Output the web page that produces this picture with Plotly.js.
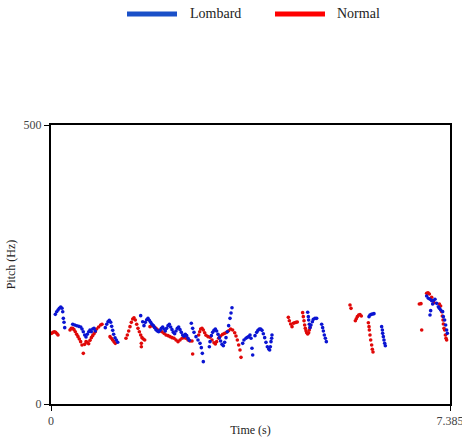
<!DOCTYPE html>
<html>
<head>
<meta charset="utf-8">
<script src="https://cdn.plot.ly/plotly-3.0.1.min.js"></script>
<style>html,body{margin:0;padding:0;background:#fff}#chart{width:462px;height:437px}</style>
</head>
<body>
<div id="chart"></div>
<script>
const seriesNames = ["Lombard", "Normal"];
const xTickVals = [0, 7.385];
const xTickText = ["0", "7.385"];
const yTickVals = [0, 500];
const yTickText = ["0", "500"];

const lombardTime = [
  0.080,0.105,0.130,0.154,0.180,0.204,0.217,0.228,0.241,0.254,
  0.402,0.439,0.476,0.513,0.550,0.574,0.598,0.624,0.648,0.672,0.698,0.722,0.746,0.772,0.796,0.820,
  1.005,1.031,1.055,1.079,1.105,1.123,1.142,1.160,1.185,1.209,1.235,
  1.660,1.697,1.721,1.746,1.771,1.795,1.820,1.845,1.869,1.894,1.919,1.943,1.968,1.993,2.017,2.042,2.067,2.092,2.116,2.141,2.166,2.190,2.215,2.240,2.264,2.289,2.314,2.338,2.363,2.388,2.412,2.437,2.462,2.486,2.511,2.536,2.560,
  2.597,2.622,2.647,2.684,2.721,2.758,2.782,2.801,2.819,
  2.931,2.943,2.968,2.992,3.017,3.042,3.066,3.091,3.116,3.140,3.165,3.190,3.214,3.239,3.264,3.288,3.313,3.332,3.350,
  3.548,3.572,3.609,3.634,3.659,3.683,3.702,3.720,3.733,
  3.776,3.807,3.831,3.856,3.881,3.905,3.930,3.955,3.979,4.004,4.029,4.047,4.060,4.072,4.084,4.090,
  4.751,4.763,4.769,4.781,4.794,4.812,4.837,4.855,4.886,4.917,
  5.010,5.028,5.041,5.059,5.078,5.096,
  5.886,5.904,5.929,5.954,5.978,
  6.120,6.133,6.139,6.151,6.163,6.176,6.188,
  6.953,6.984,7.015,7.046,7.077,7.107,7.064,7.027,7.015,7.138,7.169,7.188,7.212,7.249,7.262,7.286,7.305,7.323,7.336
];
const lombardPitch = [
  160.7,165.4,168.5,171.5,173.8,171.5,165.4,153.5,146.4,136.8,
  142.8,141.6,140.3,139.2,137.9,134.4,129.6,123.6,120.0,124.9,129.6,132.6,129.6,134.4,135.6,130.8,
  136.8,142.8,147.5,150.0,146.4,139.2,132.0,124.9,118.8,114.7,110.6,
  158.3,147.5,140.4,146.3,151.1,153.5,149.9,146.3,142.8,140.4,136.8,133.2,130.8,129.6,132.0,135.6,138.0,134.4,130.8,135.6,140.4,142.8,138.0,133.2,128.4,126.0,130.8,135.6,138.0,133.2,128.4,123.6,121.3,124.8,122.5,117.7,114.1,
  144.6,135.6,128.4,120.7,114.7,108.7,101.0,90.8,75.9,
  102.7,111.7,122.5,128.4,132.0,134.4,130.8,124.8,118.9,112.9,106.9,104.5,110.5,118.9,129.6,140.4,153.5,163.1,172.6,
  108.7,114.7,117.7,119.5,120.7,123.6,117.7,99.8,87.8,
  122.5,128.4,132.0,134.4,134.4,132.0,126.0,118.9,110.5,102.7,98.6,96.8,102.7,111.7,117.7,123.6,
  164.3,156.5,150.5,142.8,136.8,141.6,147.5,151.7,153.5,153.5,
  142.8,136.8,130.8,123.6,117.7,111.7,
  156.5,159.5,160.7,161.3,161.9,
  138.6,132.6,126.6,120.7,114.7,108.7,104.5,
  193.5,189.4,187.6,185.2,185.2,187.6,179.2,167.3,159.5,180.4,174.4,171.4,168.4,165.5,156.5,150.5,141.6,132.6,126.6
];

const normalTime = [
  0.012,0.037,0.062,0.086,0.111,0.130,
  0.352,0.376,0.401,0.426,0.450,0.475,0.500,0.524,0.549,0.574,0.598,0.623,0.648,0.672,0.697,0.722,0.747,0.771,0.796,0.821,0.845,0.882,0.919,0.944,
  1.092,1.117,1.141,1.166,1.191,
  1.388,1.413,1.438,1.462,1.487,1.512,1.536,1.561,1.586,1.610,1.635,1.660,1.684,1.709,1.734,1.672,1.672,
  1.832,1.869,1.906,1.943,1.980,2.017,2.054,2.092,2.129,2.166,2.203,2.240,2.277,2.314,2.351,2.388,2.425,2.462,2.499,2.536,2.573,2.610,2.622,
  2.733,2.752,2.770,2.795,2.819,2.844,2.869,2.906,2.943,2.980,3.017,3.042,3.066,3.103,3.140,3.177,3.214,3.251,3.288,3.325,3.362,3.400,3.424,3.449,3.474,3.498,3.517,
  4.393,4.411,4.436,4.461,4.485,4.510,4.535,4.559,
  4.658,4.670,4.683,4.695,4.707,4.720,4.732,4.751,4.769,4.781,4.794,
  5.534,5.553,
  5.633,5.651,5.670,5.695,5.719,5.744,
  5.874,5.886,5.892,5.904,5.917,5.935,5.947,5.960,
  6.817,6.848,6.861,6.953,6.978,7.003,7.046,7.089,7.188,7.212,7.231,7.243,7.256,7.262,7.274,7.286,7.299,7.311,7.323
];
const normalPitch = [
  126.6,128.4,129.6,128.4,126.0,123.6,
  132.6,135.6,135.6,133.2,129.6,124.8,120.7,116.5,111.7,105.7,90.8,106.9,111.7,110.5,108.1,114.1,118.9,122.5,126.0,129.6,134.4,138.0,141.6,142.8,
  120.7,117.7,114.7,111.7,108.7,
  117.7,123.6,130.8,138.6,146.3,152.3,154.7,150.5,142.8,135.6,129.6,123.6,118.9,116.5,114.7,108.7,102.7,
  138.6,140.4,138.6,135.6,132.6,130.8,129.6,126.6,123.6,122.5,120.7,118.9,117.7,114.7,111.7,114.7,117.7,118.9,117.7,114.7,112.9,112.9,89.6,
  123.6,129.6,134.4,135.6,132.6,127.8,123.1,120.7,119.5,114.7,109.9,107.5,111.7,117.7,121.9,124.8,126.6,128.4,131.4,134.4,132.6,127.8,121.9,114.7,105.7,96.8,83.6,
  155.3,149.3,143.4,138.6,144.6,145.7,146.3,146.9,
  163.7,156.5,149.3,141.6,135.6,131.4,127.8,125.4,127.8,132.6,137.4,
  177.4,171.4,
  149.3,152.9,156.5,159.5,160.1,157.7,
  145.7,138.6,132.6,123.6,114.7,105.7,98.0,93.2,
  179.2,179.8,132.6,198.3,199.5,197.1,191.1,181.6,179.2,175.6,165.5,157.7,150.5,143.4,135.6,132.6,123.6,117.7,114.7
];

const blue = '#0a14d2';
const red = '#e00808';
const legendBlue = '#1a50c8';
const legendRed = '#ff0000';
const serif = '"Liberation Serif", "Times New Roman", serif';

const data = [
  {x: normalTime, y: normalPitch, type: 'scatter', mode: 'markers', name: seriesNames[1],
   marker: {color: red, size: 3.6}},
  {x: lombardTime, y: lombardPitch, type: 'scatter', mode: 'markers', name: seriesNames[0],
   marker: {color: blue, size: 3.6}}
];

// legend drawn as paper-referenced shapes + text
const legendY = 1.398;
const shapes = [
  {type: 'line', xref: 'paper', yref: 'paper', x0: 0.1905, x1: 0.3158, y0: legendY, y1: legendY,
   line: {color: legendBlue, width: 5}},
  {type: 'line', xref: 'paper', yref: 'paper', x0: 0.5614, x1: 0.6867, y0: legendY, y1: legendY,
   line: {color: legendRed, width: 5}}
];
const annotations = [
  {text: seriesNames[0], xref: 'paper', yref: 'paper', x: 0.3434, y: legendY, xanchor: 'left', yanchor: 'middle',
   showarrow: false, font: {family: serif, size: 14, color: '#222'}},
  {text: seriesNames[1], xref: 'paper', yref: 'paper', x: 0.7118, y: legendY, xanchor: 'left', yanchor: 'middle',
   showarrow: false, font: {family: serif, size: 14, color: '#222'}}
];

const layout = {
  width: 462, height: 437,
  margin: {l: 51, r: 12, t: 125, b: 33, pad: 0},
  paper_bgcolor: '#fff', plot_bgcolor: '#fff',
  font: {family: serif, size: 12, color: '#333'},
  showlegend: false,
  shapes: shapes,
  annotations: annotations,
  xaxis: {
    range: [0, 7.385], tickvals: xTickVals, ticktext: xTickText,
    showline: true, mirror: true, linecolor: '#000', linewidth: 2,
    ticks: 'outside', ticklen: 5, tickcolor: '#000', tickwidth: 1,
    showgrid: false, zeroline: false, ticklabeloverflow: 'allow',
    tickfont: {family: serif, size: 12, color: '#444'},
    title: {text: 'Time (s)', font: {family: serif, size: 12, color: '#222'}, standoff: 0}
  },
  yaxis: {
    range: [0, 500], tickvals: yTickVals, ticktext: yTickText,
    showline: true, mirror: true, linecolor: '#000', linewidth: 2,
    ticks: 'outside', ticklen: 5, tickcolor: '#000', tickwidth: 1,
    showgrid: false, zeroline: false,
    tickfont: {family: serif, size: 12, color: '#444'},
    title: {text: 'Pitch (Hz)', font: {family: serif, size: 12, color: '#222'}, standoff: 5}
  }
};

Plotly.newPlot('chart', data, layout, {displayModeBar: false, staticPlot: true});
</script>
</body>
</html>
